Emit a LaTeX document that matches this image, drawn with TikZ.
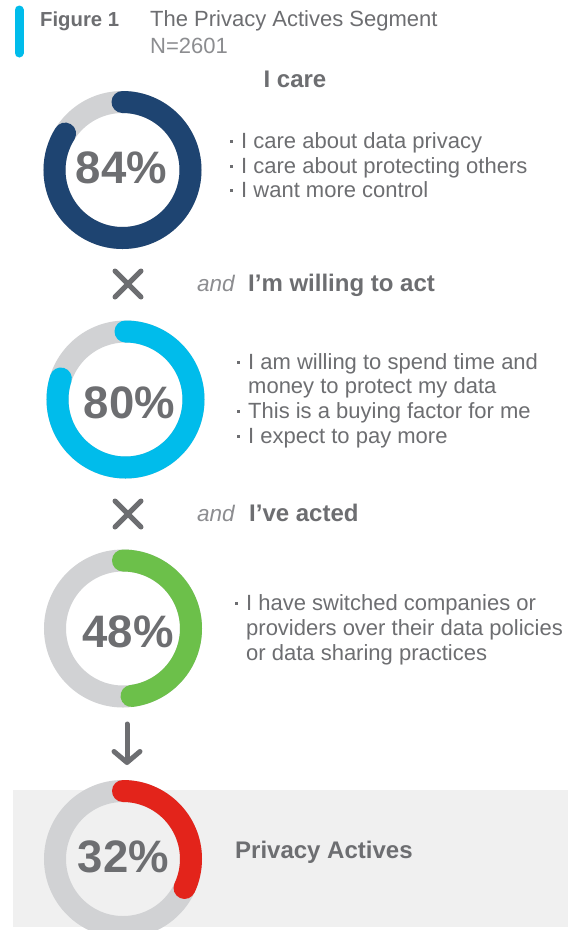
\documentclass[tikz,border=0pt]{standalone}
\usepackage{fontspec}
\setmainfont{Liberation Sans}
\usetikzlibrary{arrows.meta}
\definecolor{ciscoblue}{HTML}{00BCEB}
\definecolor{navy}{HTML}{1E4471}
\definecolor{leaf}{HTML}{6CC04A}
\definecolor{alarm}{HTML}{E3241B}
\definecolor{track}{HTML}{D1D2D4}
\definecolor{ink}{HTML}{6D6E71}
\definecolor{pale}{HTML}{8C8D90}
\definecolor{panel}{HTML}{F0F0F0}
\newcommand\bul{\makebox[13pt][l]{\hspace{1.5pt}\rule[5.5pt]{3pt}{3pt}}}
\tikzset{
	body/.style={anchor=base west,inner sep=0pt,text=ink,font=\fontsize{22}{26}\selectfont},
	head/.style={anchor=base west,inner sep=0pt,text=ink,font=\fontsize{24}{28}\selectfont\bfseries},
	soft/.style={anchor=base west,inner sep=0pt,text=pale,font=\fontsize{22.5}{26}\selectfont\itshape},
	pct/.style={anchor=base,inner sep=0pt,text=ink,font=\fontsize{45.5}{50}\selectfont\bfseries},
	ring/.style={line width=22pt,track},
	part/.style={line width=22pt,line cap=round,#1},
	cross/.style={line width=5pt,line cap=round,ink}
}
\begin{document}
\begin{tikzpicture}[x=1pt,y=1pt]
\clip (0,0) rectangle (585,-930);
\fill[white] (0,0) rectangle (585,-930);
\draw[line width=9pt,line cap=round,ciscoblue] (19,-10)--(19,-53);
\node[head,font=\fontsize{20.3}{24}\selectfont\bfseries] (fig) at (40,-26) {Figure 1};
\node[body] (title) at (150,-26) {The Privacy Actives Segment};
\node[body,text=pale] (size) at (150,-53) {N=2601};
\coordinate (care) at (122.5,-170);
\node[head,anchor=base] (carehead) at (295,-87) {I care};
\draw[ring] (care) circle (68);
\draw[part=navy] (care) ++(90:68) arc (90:-212.4:68);
\node[pct] (carepct) at (121.5,-183) {84\%};
\node[body] (care1) at (228,-148) {\bul I care about data privacy};
\node[body] (care2) at (228,-173) {\bul I care about protecting others};
\node[body] (care3) at (228,-197) {\bul I want more control};
\draw[cross] (128,-284) +(-13,-13)--+(13,13) +(-13,13)--+(13,-13);
\node[soft] (and1) at (197,-291) {and};
\node[head] (willhead) at (248,-291) {I’m willing to act};
\coordinate (will) at (125.5,-399.5);
\draw[ring] (will) circle (68);
\draw[part=ciscoblue] (will) ++(90:68) arc (90:-198:68);
\node[pct] (willpct) at (129.5,-418) {80\%};
\node[body] (will1) at (235,-369) {\bul I am willing to spend time and};
\node[body] (will2) at (248,-393) {money to protect my data};
\node[body] (will3) at (235,-418) {\bul This is a buying factor for me};
\node[body] (will4) at (235,-443) {\bul I expect to pay more};
\draw[cross] (128,-514) +(-13,-13)--+(13,13) +(-13,13)--+(13,-13);
\node[soft] (and2) at (197,-521) {and};
\node[head] (actedhead) at (249,-521) {I’ve acted};
\coordinate (acted) at (123,-628.5);
\draw[ring] (acted) circle (68);
\draw[part=leaf] (acted) ++(90:68) arc (90:-82.8:68);
\node[pct] (actedpct) at (128,-647) {48\%};
\node[body] (acted1) at (233,-610) {\bul I have switched companies or};
\node[body] (acted2) at (246,-635) {providers over their data policies};
\node[body] (acted3) at (246,-660) {or data sharing practices};
\coordinate (down1) at (127,-724);
\coordinate (down2) at (127,-765);
\draw[cross,-{Straight Barb[length=11pt,width=26pt,round]}] (down1)--(down2);
\fill[panel] (13,-790) rectangle (568,-927);
\coordinate (active) at (123,-859);
\draw[ring] (active) circle (68);
\draw[part=alarm] (active) ++(90:68) arc (90:-25.2:68);
\node[pct] (activepct) at (123.5,-872) {32\%};
\node[head] (activehead) at (235,-858) {Privacy Actives};
\end{tikzpicture}
\end{document}
